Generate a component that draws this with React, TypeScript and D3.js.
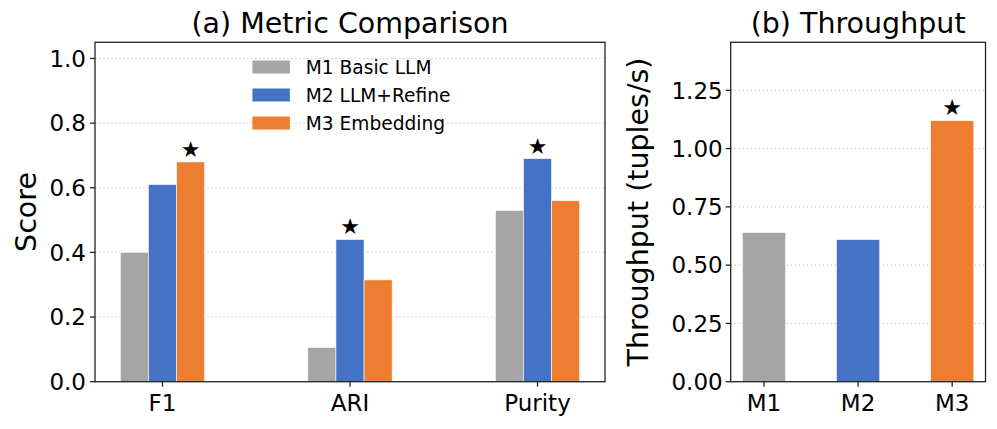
import React from "react";
import * as d3 from "d3";

const metrics = ["F1", "ARI", "Purity"];
const methods = ["M1 Basic LLM", "M2 LLM+Refine", "M3 Embedding"];
const methodShort = ["M1", "M2", "M3"];
const colors = ["#a5a5a5", "#4472c4", "#ed7d31"];
const m1Scores = [0.4, 0.106, 0.53];
const m2Scores = [0.61, 0.44, 0.69];
const m3Scores = [0.68, 0.315, 0.56];
const scoreTicks = [0, 0.2, 0.4, 0.6, 0.8, 1.0];
const throughput = [0.64, 0.61, 1.12];
const throughputTicks = [0, 0.25, 0.5, 0.75, 1.0, 1.25];

const FONT = "'DejaVu Sans', sans-serif";
const W = 997;
const H = 429;

export default function App() {
  const series = [m1Scores, m2Scores, m3Scores];

  // Panel A
  const a = { left: 95, right: 605, top: 42.3, bottom: 381.7 };
  const xA = d3.scaleLinear().domain([-0.36, 2.36]).range([a.left, a.right]);
  const yA = d3.scaleLinear().domain([0, 1.05]).range([a.bottom, a.top]);
  const bwA = 0.15;

  const bestA = metrics.map((_, i) => {
    let bi = 0;
    series.forEach((s, j) => {
      if (s[i] > series[bi][i]) bi = j;
    });
    return bi;
  });

  // Panel B
  const b = { left: 730.7, right: 985.5, top: 42.3, bottom: 381.7 };
  const xB = d3.scaleLinear().domain([-0.354, 2.354]).range([b.left, b.right]);
  const yB = d3.scaleLinear().domain([0, 1.456]).range([b.bottom, b.top]);
  const bwB = 0.46;
  const bestB = throughput.indexOf(d3.max(throughput) as number);

  const tickFont = 23;
  const labelFont = 28.5;
  const starFont = 22;

  return (
    <div style={{ position: "fixed", left: 0, top: 0 }}>
      <svg width={W} height={H} style={{ display: "block", background: "#fff" }} fontFamily={FONT}>
        {/* Panel A grid */}
        {scoreTicks.map((t) => (
          <line key={"ga" + t} x1={a.left} x2={a.right} y1={yA(t)} y2={yA(t)} stroke="#c8c8c8" strokeWidth={1} strokeDasharray="1.5,2.5" />
        ))}
        {series.map((s, j) =>
          s.map((v, i) => {
            const cx = i + (j - 1) * bwA;
            const x0 = xA(cx - bwA / 2);
            const x1 = xA(cx + bwA / 2);
            return (
              <rect key={`a${j}-${i}`} x={x0} y={yA(v)} width={x1 - x0} height={yA(0) - yA(v)} fill={colors[j]} stroke="#ffffff" strokeWidth={0.6} />
            );
          })
        )}
        {metrics.map((m, i) => {
          const j = bestA[i];
          const cx = i + (j - 1) * bwA;
          return (
            <text key={"sa" + m} x={xA(cx)} y={yA(series[j][i]) - 5} textAnchor="middle" fontSize={starFont}>★</text>
          );
        })}
        <rect x={a.left} y={a.top} width={a.right - a.left} height={a.bottom - a.top} fill="none" stroke="#222" strokeWidth={1.3} />
        {scoreTicks.map((t) => (
          <g key={"ta" + t}>
            <line x1={a.left - 5} x2={a.left} y1={yA(t)} y2={yA(t)} stroke="#222" strokeWidth={1.3} />
            <text x={a.left - 9} y={yA(t)} dy="0.36em" textAnchor="end" fontSize={tickFont}>{t.toFixed(1)}</text>
          </g>
        ))}
        {metrics.map((m, i) => (
          <g key={"xa" + m}>
            <line x1={xA(i)} x2={xA(i)} y1={a.bottom} y2={a.bottom + 5} stroke="#222" strokeWidth={1.3} />
            <text x={xA(i)} y={411} textAnchor="middle" fontSize={tickFont}>{m}</text>
          </g>
        ))}
        <text x={(a.left + a.right) / 2} y={33} textAnchor="middle" fontSize={labelFont}>(a) Metric Comparison</text>
        <text transform={`translate(${36},${(a.top + a.bottom) / 2}) rotate(-90)`} textAnchor="middle" fontSize={labelFont}>Score</text>
        {methods.map((m, j) => (
          <g key={"lg" + m} transform={`translate(252.4,${67 + j * 28})`}>
            <rect x={0} y={-6.5} width={37.5} height={13} fill={colors[j]} />
            <text x={53.4} y={0} dy="0.36em" fontSize={18.6}>{m}</text>
          </g>
        ))}

        {/* Panel B */}
        {throughputTicks.map((t) => (
          <line key={"gb" + t} x1={b.left} x2={b.right} y1={yB(t)} y2={yB(t)} stroke="#c8c8c8" strokeWidth={1} strokeDasharray="1.5,2.5" />
        ))}
        {throughput.map((v, i) => {
          const x0 = xB(i - bwB / 2);
          const x1 = xB(i + bwB / 2);
          return (
            <rect key={"b" + i} x={x0} y={yB(v)} width={x1 - x0} height={yB(0) - yB(v)} fill={colors[i]} stroke="#ffffff" strokeWidth={0.6} />
          );
        })}
        <text x={xB(bestB)} y={yB(throughput[bestB]) - 6} textAnchor="middle" fontSize={starFont}>★</text>
        <rect x={b.left} y={b.top} width={b.right - b.left} height={b.bottom - b.top} fill="none" stroke="#222" strokeWidth={1.3} />
        {throughputTicks.map((t) => (
          <g key={"tb" + t}>
            <line x1={b.left - 5} x2={b.left} y1={yB(t)} y2={yB(t)} stroke="#222" strokeWidth={1.3} />
            <text x={b.left - 8} y={yB(t)} dy="0.36em" textAnchor="end" fontSize={tickFont}>{t.toFixed(2)}</text>
          </g>
        ))}
        {methodShort.map((m, i) => (
          <g key={"xb" + m}>
            <line x1={xB(i)} x2={xB(i)} y1={b.bottom} y2={b.bottom + 5} stroke="#222" strokeWidth={1.3} />
            <text x={xB(i)} y={411} textAnchor="middle" fontSize={tickFont}>{m}</text>
          </g>
        ))}
        <text x={(b.left + b.right) / 2} y={33} textAnchor="middle" fontSize={labelFont}>(b) Throughput</text>
        <text transform={`translate(${648},${(b.top + b.bottom) / 2}) rotate(-90)`} textAnchor="middle" fontSize={labelFont}>Throughput (tuples/s)</text>
      </svg>
    </div>
  );
}
